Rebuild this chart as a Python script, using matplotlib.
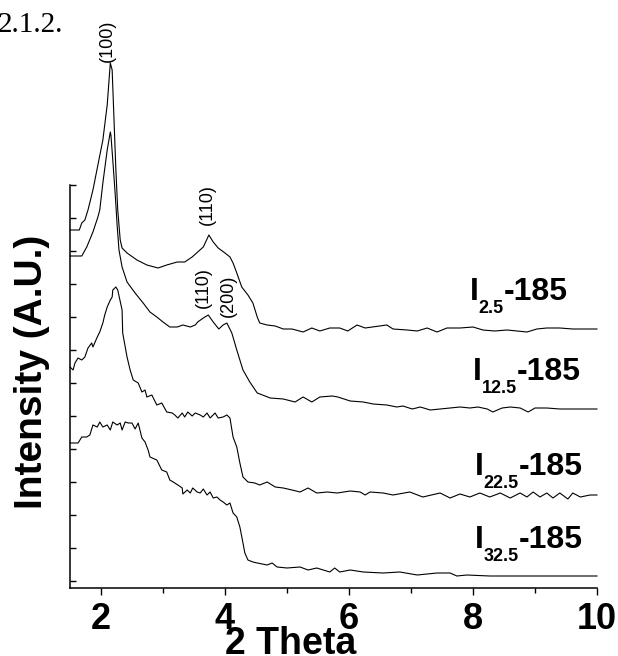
import matplotlib
matplotlib.use("Agg")
import matplotlib.pyplot as plt
from matplotlib.ticker import MultipleLocator

plt.rcParams['font.family'] = ['Liberation Sans', 'DejaVu Sans']

# XRD patterns, intensity in arbitrary units (curves are offset vertically)
tt_25 = [1.50, 1.65, 1.69, 1.74, 1.79, 1.87, 1.95, 2.03, 2.10, 2.15, 2.18, 2.21, 2.24, 2.27,
         2.31, 2.34, 2.42, 2.58, 2.74, 2.92, 3.06, 3.23, 3.35, 3.47, 3.56, 3.65, 3.74, 3.81,
         3.89, 4.00, 4.08, 4.13, 4.19, 4.27, 4.37, 4.45, 4.52, 4.56, 4.68, 4.81, 4.94, 5.08,
         5.26, 5.40, 5.53, 5.69, 5.85, 5.98, 6.13, 6.26, 6.61, 6.71, 6.94, 7.10, 7.26, 7.42,
         7.58, 7.79, 8.00, 8.16, 8.35, 8.55, 8.71, 8.87, 9.03, 9.19, 9.40, 9.61, 10.0]
int_25 = [351, 351, 358, 361, 371, 391, 416, 441, 476, 518, 511, 461, 411, 371,
          341, 333, 328, 321, 316, 313, 316, 319, 319, 324, 329, 334, 346, 339,
          333, 328, 324, 318, 308, 294, 286, 278, 264, 258, 256, 255, 252, 252,
          249, 253, 250, 253, 253, 250, 256, 253, 256, 252, 251, 250, 253, 249,
          253, 253, 254, 251, 250, 251, 250, 249, 252, 253, 253, 252, 252]

tt_125 = [1.50, 1.69, 1.77, 1.87, 1.95, 1.98, 2.03, 2.10, 2.15, 2.16, 2.19, 2.23, 2.26, 2.29,
          2.34, 2.42, 2.55, 2.68, 2.79, 2.90, 3.00, 3.11, 3.23, 3.32, 3.44, 3.52, 3.56, 3.65,
          3.73, 3.81, 3.90, 3.97, 4.03, 4.11, 4.19, 4.29, 4.40, 4.52, 4.73, 4.94, 5.13, 5.26,
          5.40, 5.53, 5.73, 5.82, 6.02, 6.23, 6.39, 6.61, 6.77, 6.87, 7.02, 7.15, 7.31, 7.63,
          7.79, 7.95, 8.08, 8.23, 8.32, 8.47, 8.60, 8.76, 8.89, 9.00, 9.19, 9.40, 9.61, 10.0]
int_125 = [325, 325, 334, 349, 364, 371, 398, 431, 449, 446, 421, 386, 356, 331,
           314, 299, 288, 278, 269, 264, 259, 254, 254, 256, 254, 256, 259, 263,
           266, 259, 252, 256, 258, 248, 231, 211, 199, 188, 183, 182, 179, 184,
           179, 184, 185, 184, 180, 179, 177, 176, 174, 175, 172, 174, 171, 173,
           174, 173, 174, 172, 169, 173, 174, 173, 169, 173, 173, 172, 172, 172]

tt_225 = [1.50, 1.55, 1.58, 1.63, 1.69, 1.74, 1.79, 1.85, 1.87, 1.94, 1.98, 2.03, 2.06, 2.10,
          2.15, 2.18, 2.19, 2.24, 2.27, 2.34, 2.35, 2.42, 2.47, 2.52, 2.60, 2.66, 2.71, 2.74,
          2.82, 2.90, 2.98, 3.06, 3.15, 3.19, 3.24, 3.31, 3.35, 3.40, 3.47, 3.52, 3.60, 3.65,
          3.71, 3.76, 3.84, 3.89, 3.97, 4.03, 4.08, 4.13, 4.19, 4.24, 4.29, 4.37, 4.48, 4.56,
          4.68, 4.81, 4.94, 5.08, 5.21, 5.34, 5.48, 5.65, 5.81, 6.02, 6.18, 6.26, 6.34, 6.55,
          6.71, 6.98, 7.19, 7.47, 7.63, 7.79, 7.95, 8.11, 8.27, 8.44, 8.60, 8.76, 8.87, 8.97,
          9.08, 9.19, 9.29, 9.40, 9.53, 9.61, 9.73, 9.89, 10.0]
int_225 = [214, 211, 218, 223, 221, 224, 233, 238, 234, 244, 249, 258, 266, 274,
           281, 284, 291, 294, 291, 271, 248, 224, 211, 201, 198, 189, 191, 184,
           186, 176, 178, 169, 168, 166, 163, 168, 164, 169, 165, 168, 166, 164,
           168, 163, 168, 163, 164, 166, 163, 144, 134, 118, 104, 99, 98, 96,
           99, 94, 93, 91, 89, 93, 88, 89, 88, 90, 89, 86, 89, 88,
           86, 89, 84, 88, 83, 87, 84, 88, 84, 88, 83, 88, 84, 89,
           84, 88, 83, 88, 82, 88, 84, 86, 86]

tt_325 = [1.50, 1.63, 1.69, 1.77, 1.82, 1.87, 1.94, 1.98, 2.03, 2.10, 2.15, 2.19, 2.26, 2.31,
          2.34, 2.39, 2.44, 2.50, 2.55, 2.60, 2.66, 2.71, 2.76, 2.79, 2.90, 2.98, 3.06, 3.11,
          3.19, 3.24, 3.31, 3.32, 3.39, 3.44, 3.48, 3.55, 3.60, 3.65, 3.71, 3.76, 3.81, 3.87,
          3.92, 3.97, 4.03, 4.08, 4.13, 4.19, 4.24, 4.29, 4.32, 4.37, 4.45, 4.52, 4.68, 4.76,
          4.84, 5.00, 5.21, 5.34, 5.48, 5.69, 5.77, 5.85, 6.02, 6.23, 6.55, 6.82, 7.10, 7.42,
          7.63, 7.74, 7.90, 8.27, 9.08, 10.0]
int_325 = [138, 138, 144, 144, 146, 156, 154, 159, 154, 156, 151, 159, 156, 158,
           151, 159, 158, 158, 152, 158, 143, 139, 131, 124, 121, 111, 109, 101,
           98, 96, 93, 87, 91, 88, 93, 89, 88, 92, 86, 89, 83, 84,
           81, 79, 76, 78, 68, 64, 54, 38, 28, 21, 19, 18, 16, 18,
           14, 13, 14, 11, 13, 9, 13, 9, 11, 9, 8, 9, 6, 8,
           8, 5, 6, 5, 5, 5]

series_x = [tt_25, tt_125, tt_225, tt_325]
series_y = [int_25, int_125, int_225, int_325]
series_sub = ['2.5', '12.5', '22.5', '32.5']
series_lbl_x = [7.95, 8.00, 8.03, 8.03]
series_lbl_y = [281, 201, 106, 33]

peak_text = ['(100)', '(110)', '(110)', '(200)']
peak_x = [2.11, 3.71, 3.645, 4.06]
peak_y = [540, 376, 293, 285]

fig = plt.figure(figsize=(6.18, 6.56), dpi=100)
ax = fig.add_axes([70 / 618, 68 / 656, 527 / 618, 403 / 656])

for xs, ys in zip(series_x, series_y):
    ax.plot(xs, ys, color='black', lw=0.8, clip_on=False)

ax.set_xlim(1.5, 10)
ax.set_ylim(-7, 396)

ax.spines['top'].set_visible(False)
ax.spines['right'].set_visible(False)
for s in ['left', 'bottom']:
    ax.spines[s].set_linewidth(1.1)

ax.xaxis.set_major_locator(MultipleLocator(2))
ax.xaxis.set_minor_locator(MultipleLocator(1))
ax.yaxis.set_major_locator(MultipleLocator(33))
ax.yaxis.set_major_formatter(plt.NullFormatter())
ax.tick_params(axis='x', which='major', direction='out', length=5, width=1.0,
               labelsize=26, pad=5)
ax.tick_params(axis='x', which='minor', direction='out', length=3.5, width=1.0)
ax.tick_params(axis='y', which='major', direction='in', length=4, width=1.0)
for lbl in ax.get_xticklabels():
    lbl.set_fontweight('bold')

for t, x, y in zip(peak_text, peak_x, peak_y):
    ax.text(x, y, t, rotation=90, ha='center', va='center', fontsize=13,
            clip_on=False)

# sample labels: I with a dropped subscript, then -185
r = fig.canvas.get_renderer()
for sub, x, y in zip(series_sub, series_lbl_x, series_lbl_y):
    t1 = ax.annotate('I', (x, y), xytext=(0, 0), textcoords='offset pixels',
                     fontsize=23, fontweight='bold', va='baseline', ha='left')
    w1 = t1.get_window_extent(r).width
    t2 = ax.annotate(sub, (x, y), xytext=(w1, -13), textcoords='offset pixels',
                     fontsize=13, fontweight='bold', va='baseline', ha='left')
    w2 = t2.get_window_extent(r).width
    ax.annotate('-185', (x, y), xytext=(w1 + w2, 0), textcoords='offset pixels',
                fontsize=23, fontweight='bold', va='baseline', ha='left')

fig.text(32 / 618, (656 - 372) / 656, 'Intensity (A.U.)', rotation=90,
         ha='center', va='center', fontsize=28, fontweight='bold')
fig.text(291 / 618, 2 / 656, '2 Theta', ha='center', va='baseline',
         fontsize=27, fontweight='bold')
fig.text(-2 / 618, (656 - 32) / 656, '2.1.2.', ha='left', va='baseline',
         fontsize=21, family='Liberation Serif')

fig.savefig('out.png', dpi=100)
